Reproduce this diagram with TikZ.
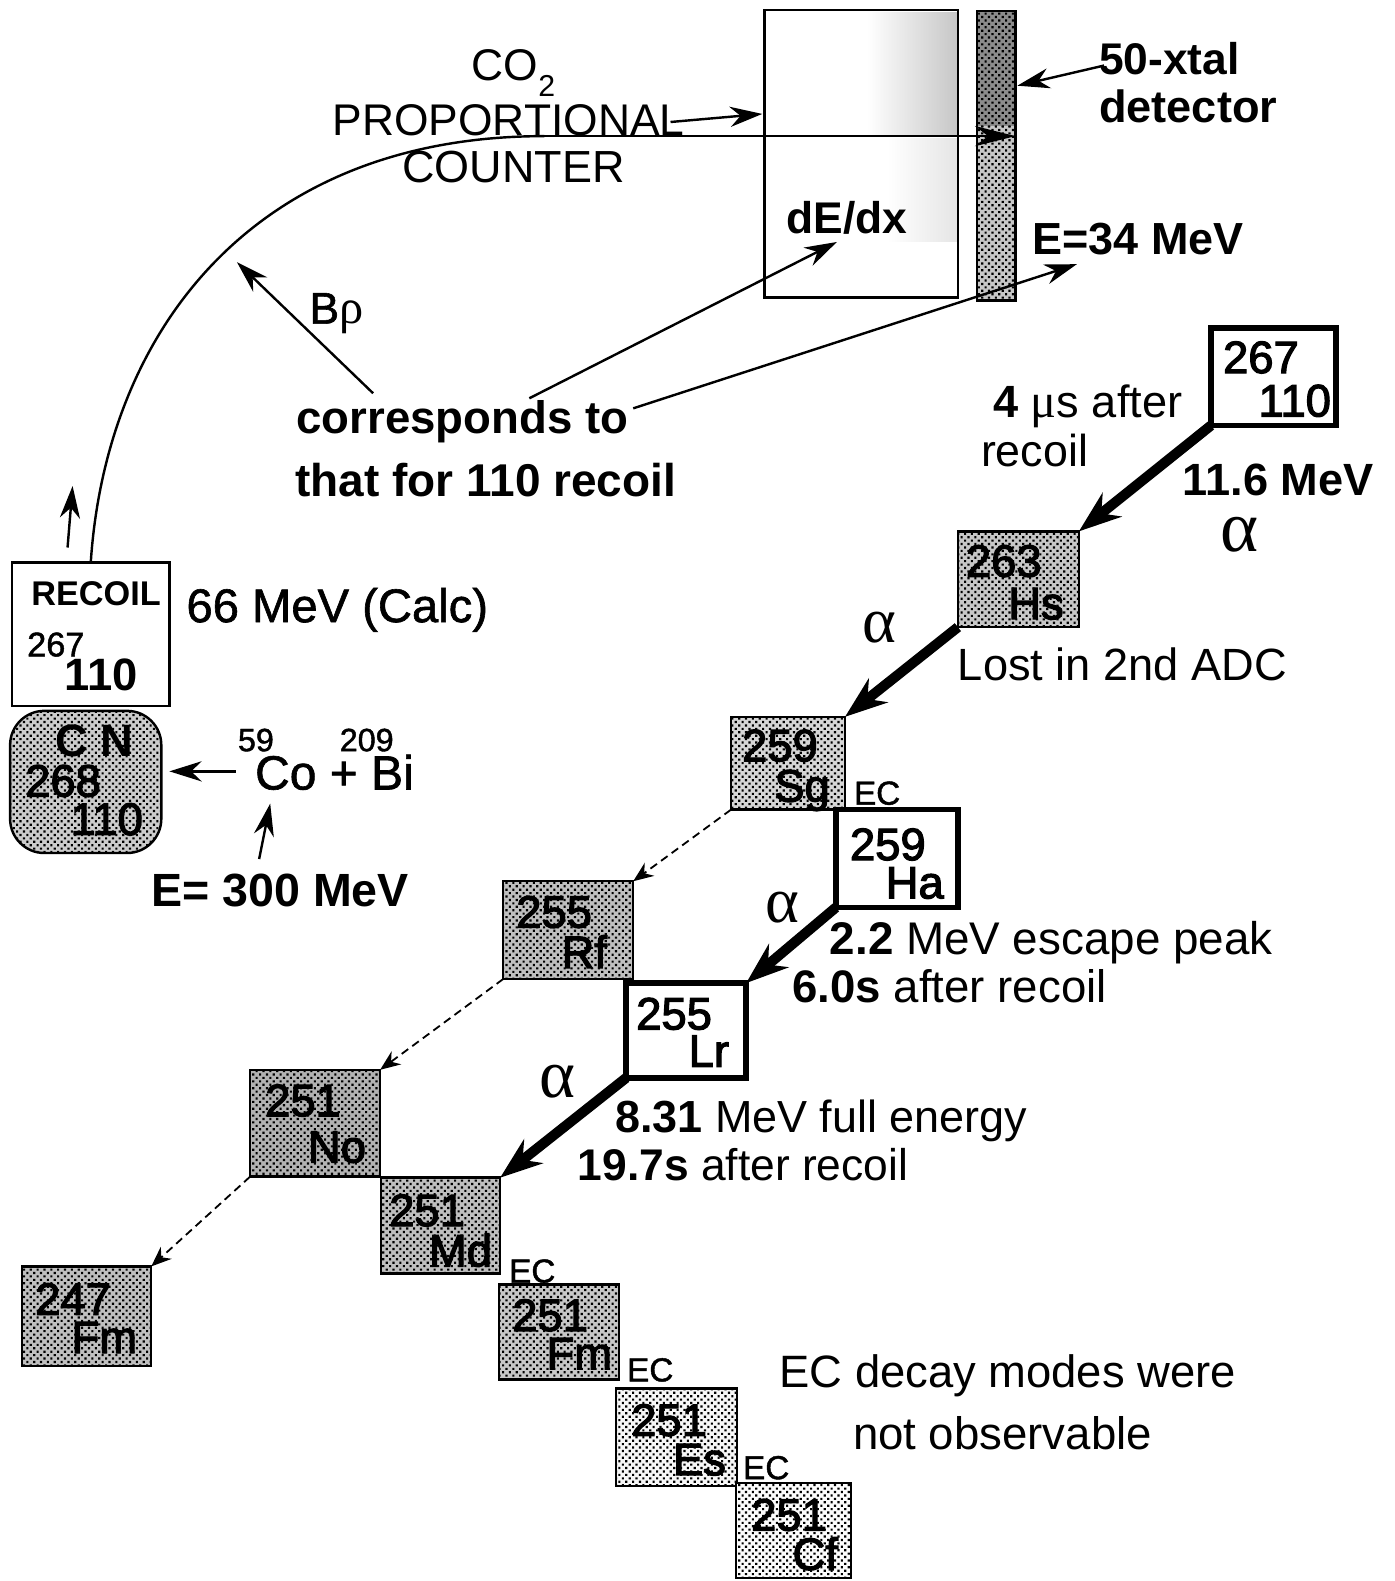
\documentclass[tikz,border=0pt]{standalone}
\usepackage{fontspec}
\setmainfont{Liberation Sans}
\newfontfamily\medf[RawFeature={embolden=1.3}]{Liberation Sans}
\newfontfamily\hvyf[RawFeature={embolden=2.6}]{Liberation Sans}
\newfontfamily\symf{Liberation Serif}
\usetikzlibrary{arrows.meta,patterns.meta}
\newcommand\fsz[1]{\fontsize{#1}{#1}\selectfont}
\newcommand\nuc[7]{\node[nucbox,#6,minimum width={(#4-#2)*0.5pt},minimum height={(#5-#3)*0.5pt}] (#1) at (#2,#3) {};}
\newcommand\txt[5][lab]{\node[#1,font=#2] (#3) at (#4) {#5};}
\newcommand\lay[7]{% name, numx,numy, num, symx,symy, sym
  \node[lab,font=\fsz{22.5}\hvyf] (#1n) at (#2,#3) {#4};
  \node[labr,font=\fsz{22.5}\hvyf] (#1s) at (#5,#6) {#7};}
\tikzset{
  lab/.style={anchor=base west,inner sep=0pt,outer sep=0pt},
  labr/.style={anchor=base east,inner sep=0pt,outer sep=0pt},
  nucbox/.style={draw=black,line width=1.2pt,anchor=north west,inner sep=0pt,outer sep=0pt,rectangle},
  heavy/.style={line width=2.8pt},
  halftone/.style={preaction={fill=black!#1},pattern={Dots[distance=2.4pt,angle=45,radius=0.75pt]},pattern color=black},
  alphaarrow/.style={line width=5pt,-{Stealth[length=21pt,width=15pt]}},
  ecarrow/.style={line width=0.9pt,dash pattern=on 4pt off 2.5pt,-{Stealth[length=10pt,width=8pt]}},
  thin arrow/.style={line width=1.2pt,-{Stealth[length=16pt,width=10pt]}},
}
\begin{document}
\begin{tikzpicture}[x=0.5pt,y=-0.5pt]
\useasboundingbox (0,0) rectangle (1383,1568);
% counter and detector
\shade[left color=white,right color=black!22,draw=none] (860,12) rectangle (949,134);
\shade[left color=white,right color=black!10,draw=none] (880,137) rectangle (949,240);
\nuc{counter}{758}{10}{950}{295}{}{}
\nuc{det}{969}{11}{1007}{298}{halftone=22}{}
\path[halftone=45] (970,12) rectangle (1006,125);
% labels top
\txt{\fsz{22}}{co}{468,80}{CO\raisebox{-0.35em}{\fsz{15}2}}
\txt{\fsz{22}}{prop}{330,134}{PROPORTIONAL}
\txt{\fsz{22.3}}{cnt}{399,181}{COUNTER}
\txt{\fsz{22}\bfseries}{xtal}{1090,74}{50-xtal}
\txt{\fsz{22.4}\bfseries}{detl}{1090,121}{detector}
\txt{\fsz{22}\bfseries}{dedx}{780,232}{dE/dx}
\txt{\fsz{22.3}\bfseries}{eml}{1024,252}{E=34 MeV}
\txt{\fsz{22}\medf}{brho}{307,321}{B{\symf\fsz{24}ρ}}
\txt{\fsz{22.6}\bfseries}{corr}{294,430}{corresponds to}
\txt{\fsz{22.8}\bfseries}{that}{293,492}{that for 110 recoil}
% recoil box
\nuc{recoil}{12}{558}{168}{700}{fill=white}{}
\txt{\fsz{17}\bfseries}{rectxt}{31,601}{RECOIL}
\txt{\fsz{17}\medf}{recn}{27,651}{267}
\txt{\fsz{22.5}\bfseries}{recz}{64,685}{110}
\txt{\fsz{23.4}\medf}{calc}{185,617}{66 MeV (Calc)}
% CN
\node[nucbox,rounded corners=17pt,halftone=20,minimum width=75pt,minimum height=70.5pt] (cn) at (10,705) {};
\txt{\fsz{22.5}\bfseries}{cnl}{55,750}{C N}
\txt{\fsz{22.5}\hvyf}{cna}{25,790}{268}
\txt{\fsz{22.5}\hvyf}{cnz}{70,828}{110}
\txt{\fsz{16}\medf}{cos}{236,745}{59}
\txt{\fsz{16}\medf}{bis}{337,745}{209}
\txt{\fsz{23.8}\medf}{react}{253,783}{Co + Bi}
\txt{\fsz{23.1}\bfseries}{ebeam}{150,899}{E= 300 MeV}
% nuclide boxes
\nuc{a}{1201}{325}{1325}{422}{fill=white,heavy}{}
\nuc{b}{950}{527}{1070}{622}{halftone=22}{}
\nuc{c}{725}{711}{838}{803}{halftone=16}{}
\nuc{d}{829}{803}{950}{900}{fill=white,heavy}{}
\nuc{e}{499}{874}{628}{971}{halftone=25}{}
\nuc{f}{621}{975}{740}{1069}{fill=white,heavy}{}
\nuc{g}{248}{1061}{377}{1167}{halftone=30}{}
\nuc{h}{378}{1168}{496}{1263}{halftone=25}{}
\nuc{i}{495}{1274}{614}{1368}{halftone=22}{}
\nuc{j}{22}{1256}{150}{1355}{halftone=25}{}
\nuc{k}{611}{1377}{731}{1474}{halftone=3}{}
\nuc{l}{730}{1471}{844}{1565}{halftone=1}{}
\lay{a}{1213}{370}{267}{1320}{413}{110}
\lay{b}{958}{572}{263}{1055}{614}{Hs}
\lay{c}{736}{755}{259}{823}{795}{Sg}
\lay{d}{843}{853}{259}{936}{891}{Ha}
\lay{e}{512}{920}{255}{602}{960}{Rf}
\lay{f}{631}{1021}{255}{723}{1058}{Lr}
\lay{g}{263}{1107}{251}{363}{1153}{No}
\lay{h}{386}{1216}{251}{488}{1256}{Md}
\lay{i}{508}{1320}{251}{607}{1358}{Fm}
\lay{j}{35}{1304}{247}{136}{1342}{Fm}
\lay{k}{626}{1424}{251}{720}{1463}{Es}
\lay{l}{745}{1518}{251}{831}{1557}{Cf}
% decay annotations
\txt{\fsz{22.4}}{t1}{985,414}{\textbf{4} {\symf\fsz{24}μ}s after}
\txt{\fsz{22.2}}{t2}{973,463}{recoil}
\txt{\fsz{22.4}\bfseries}{t3}{1173,491}{11.6 MeV}
\txt{\fsz{36}\symf}{al1}{1210,547}{α}
\txt{\fsz{32}\symf}{al2}{855,637}{α}
\txt{\fsz{32}\symf}{al3}{759,915}{α}
\txt{\fsz{34}\symf}{al4}{535,1088}{α}
\txt{\fsz{22.4}}{t4}{950,675}{Lost in 2nd ADC}
\txt{\fsz{16.5}\medf}{ec1}{847,798}{EC}
\txt{\fsz{16.5}\medf}{ec2}{505,1272}{EC}
\txt{\fsz{16.5}\medf}{ec3}{622,1370}{EC}
\txt{\fsz{16.5}\medf}{ec4}{737,1467}{EC}
\txt{\fsz{22.7}}{t5}{823,947}{\textbf{2.2} MeV escape peak}
\txt{\fsz{22.6}}{t6}{786,994}{\textbf{6.0s} after recoil}
\txt{\fsz{22.3}}{t7}{610,1123}{\textbf{8.31} MeV full energy}
\txt{\fsz{22}}{t8}{573,1171}{\textbf{19.7s} after recoil}
\txt{\fsz{22.5}}{t9}{773,1376}{EC decay modes were}
\txt{\fsz{22.6}}{t10}{846,1438}{not observable}
% free-end coordinates
\coordinate (bend) at (540,135);
\coordinate (propr) at (665,121);
\coordinate (counterin) at (756,113);
\coordinate (xtalstart) at (1095,65);
\coordinate (xtaltip) at (1009,85);
\coordinate (brhostart) at (370,390);
\coordinate (brhotip) at (235,260);
\coordinate (corrb) at (525,395);
\coordinate (dedxtip) at (830,240);
\coordinate (corrc) at (628,405);
\coordinate (emtip) at (1068,262);
\coordinate (upa) at (67,543);
\coordinate (upb) at (72,482);
\coordinate (rea) at (234,765);
\coordinate (reb) at (168,765);
\coordinate (ea) at (257,852);
\coordinate (eb) at (268,797);
\coordinate (recoilout) at (90,558);
% connectors
\draw[line width=1.2pt] (recoilout) .. controls (105,330) and (250,135) .. (bend);
\draw[line width=1.3pt,-{Stealth[length=20pt,width=10pt]}] (bend) -- (bend -| det.east);
\draw[thin arrow] (propr) -- (counterin);
\draw[thin arrow] (xtalstart) -- (xtaltip);
\draw[thin arrow] (brhostart) -- (brhotip);
\draw[thin arrow] (corrb) -- (dedxtip);
\draw[thin arrow] (corrc) -- (emtip);
\draw[thin arrow] (upa) -- (upb);
\draw[thin arrow] (rea) -- (reb);
\draw[thin arrow] (ea) -- (eb);
\draw[alphaarrow] (a.south west) -- (b.north east);
\draw[alphaarrow] (b.south west) -- (c.north east);
\draw[alphaarrow] (d.south west) -- (f.north east);
\draw[alphaarrow] (f.south west) -- (h.north east);
\draw[ecarrow] (c.south west) -- (e.north east);
\draw[ecarrow] (e.south west) -- (g.north east);
\draw[ecarrow] (g.south west) -- (j.north east);
\end{tikzpicture}
\end{document}
